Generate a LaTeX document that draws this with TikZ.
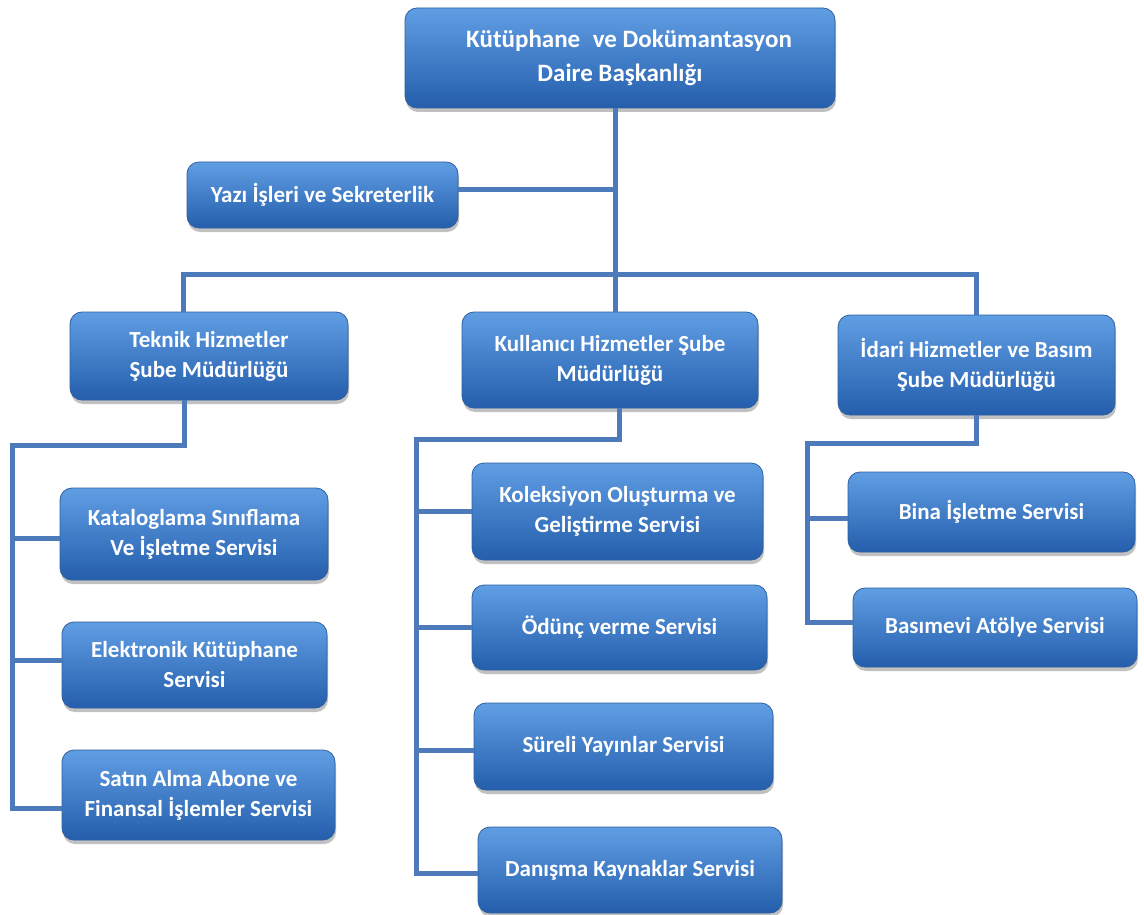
\documentclass[tikz,border=0pt]{standalone}
\usepackage{fontspec}
\setmainfont{Carlito}
\usetikzlibrary{shadows}
\definecolor{boxtop}{RGB}{96,158,228}
\definecolor{boxmid}{RGB}{58,126,208}
\definecolor{boxbot}{RGB}{36,94,172}
\definecolor{boxedge}{RGB}{46,96,160}
\definecolor{conncol}{RGB}{76,122,186}
\tikzset{
  orgbox/.style={rectangle, rounded corners=12pt, draw=boxedge, line width=0.8pt,
    top color=boxtop, middle color=boxmid, bottom color=boxbot,
    drop shadow={opacity=0.35, shadow xshift=1pt, shadow yshift=-4pt, fill=black!70},
    text=white, align=center, inner sep=2pt,
    font=\bfseries\fontsize{23}{30}\selectfont},
  bigbox/.style={orgbox, font=\bfseries\fontsize{25}{34}\selectfont},
  conn/.style={draw=conncol, line width=5pt}
}
\begin{document}
\begin{tikzpicture}[x=1pt,y=-1pt]
\useasboundingbox (0,0) rectangle (1144,915);
\coordinate (trunk) at (615,0);
\coordinate (bus) at (0,274);
\coordinate (ts) at (12,445);
\coordinate (ks) at (416,439);
\coordinate (is) at (807,443);

% boxes
\node[bigbox, minimum width=430pt, minimum height=100pt] (top) at (620,58) {\hspace*{18pt}Kütüphane\hspace{0.5em}ve Dokümantasyon\\Daire Başkanlığı};
\node[orgbox, minimum width=271pt, minimum height=66pt] (yazi) at (322.5,195) {Yazı İşleri ve Sekreterlik};
\node[orgbox, minimum width=278pt, minimum height=88pt] (teknik) at (209,356) {Teknik Hizmetler\\Şube Müdürlüğü};
\node[orgbox, minimum width=296pt, minimum height=96pt] (kull) at (610,360) {Kullanıcı Hizmetler Şube\\Müdürlüğü};
\node[orgbox, minimum width=277pt, minimum height=100pt] (idari) at (976.5,365) {İdari Hizmetler ve Basım\\Şube Müdürlüğü};
\node[orgbox, minimum width=268pt, minimum height=92pt] (katalog) at (194,534) {Kataloglama Sınıflama\\Ve İşletme Servisi};
\node[orgbox, minimum width=265pt, minimum height=86pt] (elek) at (194.5,665) {Elektronik Kütüphane\\Servisi};
\node[orgbox, minimum width=273pt, minimum height=90pt] (satin) at (198.5,795) {Satın Alma Abone ve\\Finansal İşlemler Servisi};
\node[orgbox, minimum width=291pt, minimum height=97pt] (kolek) at (617.5,511.5) {Koleksiyon Oluşturma ve\\Geliştirme Servisi};
\node[orgbox, minimum width=295pt, minimum height=85pt] (odunc) at (619.5,627.5) {Ödünç verme Servisi};
\node[orgbox, minimum width=299pt, minimum height=87pt] (sureli) at (623.5,746.5) {Süreli Yayınlar Servisi};
\node[orgbox, minimum width=304pt, minimum height=86pt] (danisma) at (630,870) {Danışma Kaynaklar Servisi};
\node[orgbox, minimum width=287pt, minimum height=80pt] (bina) at (991.5,512) {Bina İşletme Servisi};
\node[orgbox, minimum width=284pt, minimum height=79pt] (basim) at (995,627.5) {Basımevi Atölye Servisi};

% top trunk
\draw[conn] (top.south -| trunk) -- (kull.north -| trunk);
\draw[conn] ([yshift=5pt]yazi.east) -- ([yshift=5pt]yazi.east -| trunk);
% bus
\draw[conn] ([xshift=-26pt]teknik.north) |- (bus -| idari.north) -- (idari.north);
% teknik subtree
\draw[conn] ([xshift=-25pt]teknik.south) |- (ts) |- ([yshift=-13pt]satin.west);
\draw[conn] ([yshift=-4pt]katalog.west) -- ([yshift=-4pt]katalog.west -| ts);
\draw[conn] ([yshift=5pt]elek.west) -- ([yshift=5pt]elek.west -| ts);
% kullanici subtree
\draw[conn] ([xshift=9pt]kull.south) |- (ks) |- ([yshift=-3pt]danisma.west);
\draw[conn] (kolek.west) -- (kolek.west -| ks);
\draw[conn] (odunc.west) -- (odunc.west -| ks);
\draw[conn] ([yshift=-3.5pt]sureli.west) -- ([yshift=-3.5pt]sureli.west -| ks);
% idari subtree
\draw[conn] (idari.south) |- (is) |- ([yshift=5.5pt]basim.west);
\draw[conn] ([yshift=-6pt]bina.west) -- ([yshift=-6pt]bina.west -| is);
\end{tikzpicture}
\end{document}
